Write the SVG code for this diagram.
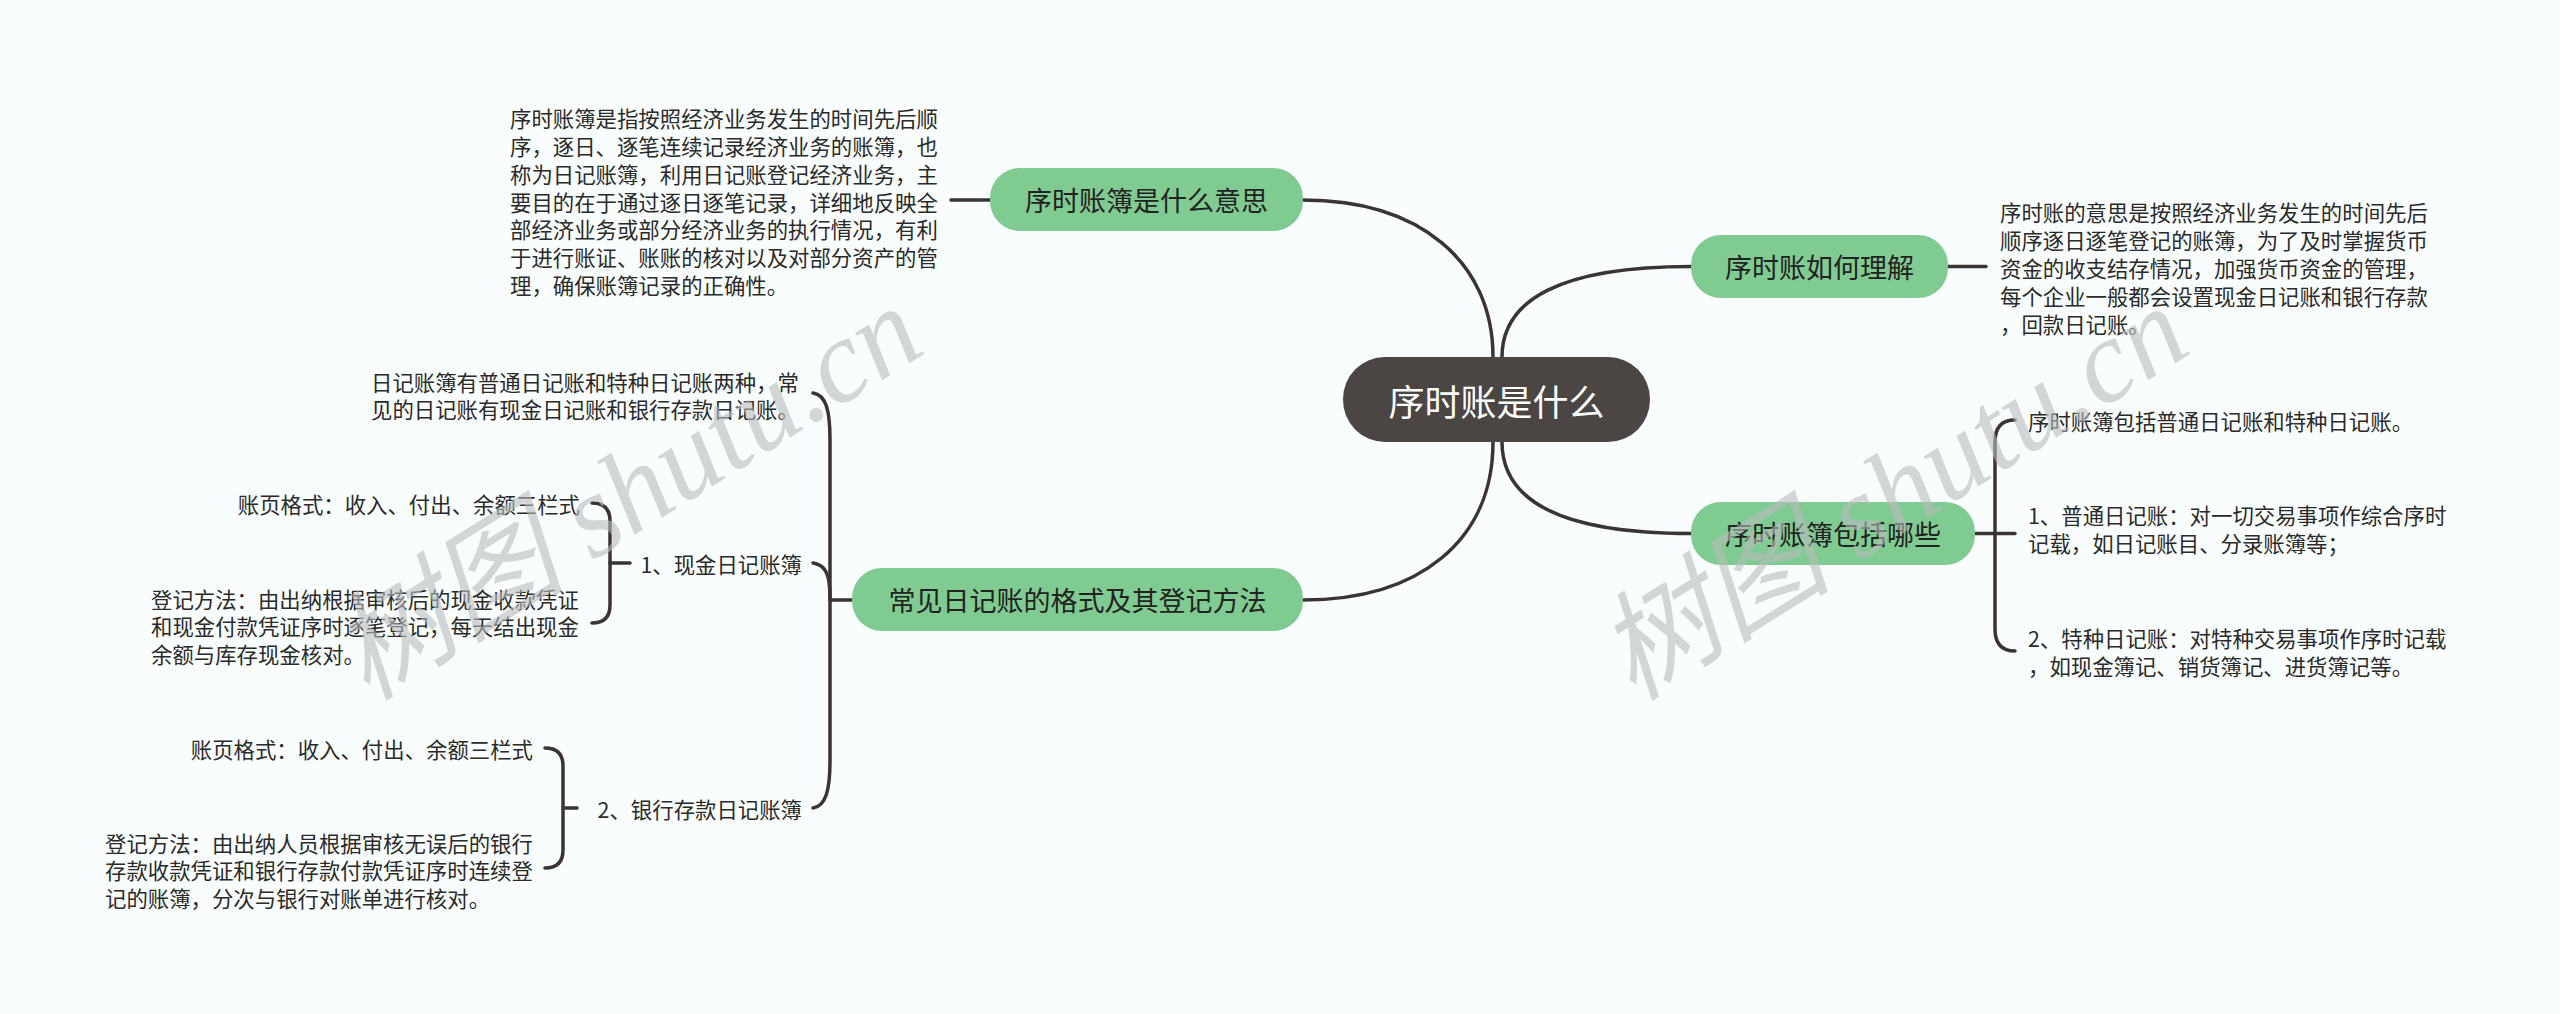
<svg xmlns="http://www.w3.org/2000/svg" width="2560" height="1014" viewBox="0 0 2560 1014">
<style>
.bg{fill:#f9fdfd}
.lk{fill:none;stroke:#3a3434;stroke-width:3.5;stroke-linecap:round}
.gn{fill:#80cb91}
.root{fill:#4b4644}
.t{font-family:"Noto Sans CJK SC","Noto Sans",sans-serif;fill:#2a2a2a;dominant-baseline:central}
.b{font-size:21.4px}
.m{font-size:27px;text-anchor:middle;fill:#222}
.r{font-size:36px;text-anchor:middle;fill:#ffffff}
.e{text-anchor:end}
.wm{font-family:"Liberation Serif","Noto Sans CJK SC",serif;font-style:italic;font-size:118px;fill:#b9bdbd;opacity:0.6}
</style>
<rect class="bg" x="0" y="0" width="2560" height="1014"/>
<g id="connectors">
<path class="lk" d="M1493 357 C1493 262 1420 200 1303 200"/>
<path class="lk" d="M1502 357 C1502 300 1560 266.5 1691 266.5"/>
<path class="lk" d="M1502 442 C1502 500 1560 533.5 1691 533.5"/>
<path class="lk" d="M1493 442 C1493 540 1420 600 1303 600"/>
<path class="lk" d="M951 200 L990 200"/>
<path class="lk" d="M1948 266.5 L1986 266.5"/>
<path class="lk" d="M1975 533.5 L2015 533.5"/>
<path class="lk" d="M2015 420 Q1995 420 1995 442 L1995 629 Q1995 651 2015 651"/>
<path class="lk" d="M852 600 L830 600"/>
<path class="lk" d="M813 393 C826 395 830 410 830 440 L830 760 C830 790 826 806 813 808"/>
<path class="lk" d="M813 563 C826 565 830 575 830 598"/>
<path class="lk" d="M630 563 L610 563"/>
<path class="lk" d="M592 503 Q610 503 610 521 L610 605 Q610 623 592 623"/>
<path class="lk" d="M577 808 L563 808"/>
<path class="lk" d="M545 748 Q563 748 563 766 L563 850 Q563 868 545 868"/>
</g>
<g id="root">
<rect class="root" x="1343" y="357" width="307" height="85" rx="42"/>
<text class="t r" x="1496.5" y="399.5">序时账是什么</text>
</g>
<g id="n1">
<rect class="gn" x="990" y="168" width="313" height="63" rx="30"/>
<text class="t m" x="1146.5" y="199.5">序时账簿是什么意思</text>
</g>
<g id="n1c">
<text class="t b" x="510" y="117">序时账簿是指按照经济业务发生的时间先后顺</text>
<text class="t b" x="510" y="145">序，逐日、逐笔连续记录经济业务的账簿，也</text>
<text class="t b" x="510" y="173">称为日记账簿，利用日记账登记经济业务，主</text>
<text class="t b" x="510" y="201">要目的在于通过逐日逐笔记录，详细地反映全</text>
<text class="t b" x="510" y="228">部经济业务或部分经济业务的执行情况，有利</text>
<text class="t b" x="510" y="256">于进行账证、账账的核对以及对部分资产的管</text>
<text class="t b" x="510" y="284">理，确保账簿记录的正确性。</text>
</g>
<g id="n2">
<rect class="gn" x="1691" y="235" width="257" height="63" rx="30"/>
<text class="t m" x="1819.5" y="266.5">序时账如何理解</text>
</g>
<g id="n2c">
<text class="t b" x="2000" y="211">序时账的意思是按照经济业务发生的时间先后</text>
<text class="t b" x="2000" y="239">顺序逐日逐笔登记的账簿，为了及时掌握货币</text>
<text class="t b" x="2000" y="267">资金的收支结存情况，加强货币资金的管理，</text>
<text class="t b" x="2000" y="295">每个企业一般都会设置现金日记账和银行存款</text>
<text class="t b" x="2000" y="323">，回款日记账。</text>
</g>
<g id="n3">
<rect class="gn" x="1691" y="502" width="284" height="63" rx="30"/>
<text class="t m" x="1833" y="533.5">序时账簿包括哪些</text>
</g>
<g id="n3c1"><text class="t b" x="2028" y="420">序时账簿包括普通日记账和特种日记账。</text></g>
<g id="n3c2">
<text class="t b" x="2028" y="514">1、普通日记账：对一切交易事项作综合序时</text>
<text class="t b" x="2028" y="542">记载，如日记账目、分录账簿等；</text>
</g>
<g id="n3c3">
<text class="t b" x="2028" y="637">2、特种日记账：对特种交易事项作序时记载</text>
<text class="t b" x="2028" y="665">，如现金簿记、销货簿记、进货簿记等。</text>
</g>
<g id="n4">
<rect class="gn" x="852" y="568" width="451" height="63" rx="30"/>
<text class="t m" x="1077.5" y="599.5">常见日记账的格式及其登记方法</text>
</g>
<g id="n4c1">
<text class="t b" x="371" y="381">日记账簿有普通日记账和特种日记账两种，常</text>
<text class="t b" x="371" y="408">见的日记账有现金日记账和银行存款日记账。</text>
</g>
<g id="n4c2"><text class="t b e" x="802" y="563">1、现金日记账簿</text></g>
<g id="n4c2a"><text class="t b e" x="580" y="503">账页格式：收入、付出、余额三栏式</text></g>
<g id="n4c2b">
<text class="t b" x="151" y="598">登记方法：由出纳根据审核后的现金收款凭证</text>
<text class="t b" x="151" y="625.5">和现金付款凭证序时逐笔登记，每天结出现金</text>
<text class="t b" x="151" y="653">余额与库存现金核对。</text>
</g>
<g id="n4c3"><text class="t b e" x="802" y="808">2、银行存款日记账簿</text></g>
<g id="n4c3a"><text class="t b e" x="533" y="748">账页格式：收入、付出、余额三栏式</text></g>
<g id="n4c3b">
<text class="t b" x="105" y="842">登记方法：由出纳人员根据审核无误后的银行</text>
<text class="t b" x="105" y="869.5">存款收款凭证和银行存款付款凭证序时连续登</text>
<text class="t b" x="105" y="897">记的账簿，分次与银行对账单进行核对。</text>
</g>
<g id="watermarks">
<text class="wm" transform="translate(367 702) rotate(-32)">树图 shutu.cn</text>
<text class="wm" transform="translate(1633 702) rotate(-32)">树图 shutu.cn</text>
</g>
</svg>
